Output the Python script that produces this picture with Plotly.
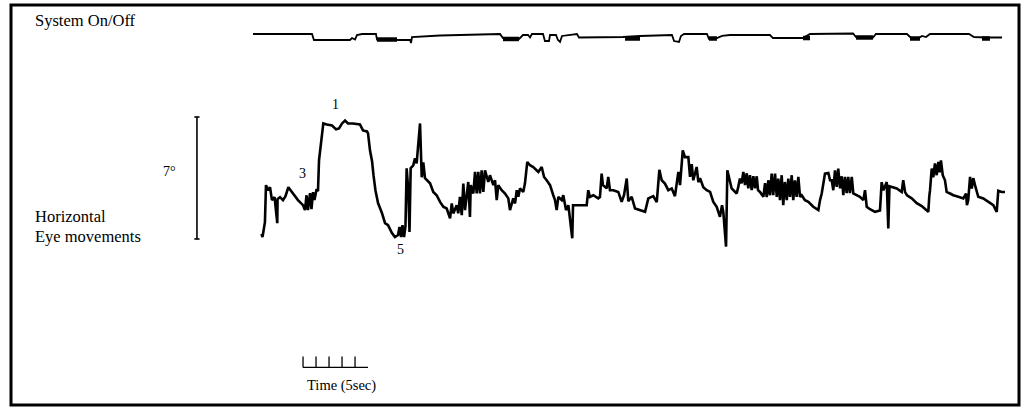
import plotly.graph_objects as go

W, H = 1032, 409

# ---------------- data (read from the record) ----------------
# Horizontal eye position: time (s) and position (deg)
eye_t = [0.12, 0.19, 0.27, 0.38, 0.46, 0.62, 0.77, 0.92, 1.12, 1.33, 1.35, 1.54, 1.77, 1.96, 2.18,
         2.54, 2.92, 3.31, 3.46, 3.58, 3.69, 3.85, 3.96, 4.08, 4.19, 4.35, 4.46, 4.54, 4.73, 4.87,
         5.15, 5.54, 5.85, 6.08, 6.31, 6.54, 6.77, 7.15, 7.69, 7.92, 8.23, 8.31, 8.46, 8.62, 8.73,
         8.88, 9.08, 9.38, 9.62, 9.85, 10.15, 10.38, 10.62, 10.73, 10.85, 10.96, 11.08, 11.19, 11.28, 11.41,
         11.50, 11.59, 11.79, 11.92, 12.05, 12.31, 12.44, 12.56, 12.69, 13.08, 13.33, 13.59, 13.85, 14.10, 14.36,
         14.62, 14.75, 14.87, 15.13, 15.25, 15.38, 15.52, 15.64, 15.77, 16.02, 16.15, 16.21, 16.41, 16.54, 16.67,
         16.79, 16.92, 17.05, 17.18, 17.31, 17.44, 17.56, 17.69, 17.95, 18.08, 18.21, 18.33, 18.59, 18.85, 19.10,
         19.23, 19.48, 19.62, 19.75, 19.87, 20.00, 20.25, 20.38, 20.56, 20.77, 21.02, 21.41, 21.67, 21.85, 22.05,
         22.31, 22.56, 22.69, 22.82, 22.95, 23.21, 23.33, 23.54, 23.72, 24.02, 24.08, 25.13, 25.25, 25.38, 25.64,
         26.02, 26.15, 26.28, 26.38, 26.67, 26.79, 26.92, 27.18, 27.56, 27.82, 28.00, 28.21, 28.33, 28.59, 28.85,
         29.23, 29.62, 29.87, 30.25, 30.52, 30.72, 30.90, 31.15, 31.41, 31.67, 31.92, 32.05, 32.18, 32.31, 32.52,
         32.69, 32.95, 33.08, 33.21, 33.33, 33.59, 33.72, 33.85, 34.10, 34.36, 34.62, 34.87, 35.13, 35.38, 35.54,
         35.64, 35.85, 35.95, 36.28, 36.67, 36.79, 36.92, 37.05, 37.18, 37.31, 37.44, 37.56, 37.69, 37.82, 37.95,
         38.08, 38.21, 38.31, 38.46, 38.72, 38.85, 38.98, 39.10, 39.23, 39.36, 39.48, 39.62, 39.75, 39.87, 40.00,
         40.13, 40.25, 40.38, 40.52, 40.64, 40.77, 40.90, 41.02, 41.15, 41.28, 41.41, 41.54, 41.67, 41.92, 42.18,
         42.56, 42.95, 43.08, 43.21, 43.46, 43.72, 43.85, 43.98, 44.10, 44.23, 44.36, 44.48, 44.62, 44.75, 44.87,
         45.00, 45.13, 45.25, 45.38, 45.52, 45.64, 45.90, 46.15, 46.41, 46.54, 46.67, 46.92, 47.31, 47.69, 47.82,
         47.95, 48.21, 48.33, 48.42, 48.59, 48.98, 49.36, 49.48, 49.62, 49.77, 50.13, 50.52, 50.90, 51.31, 51.41,
         51.48, 51.54, 51.67, 51.79, 51.92, 52.05, 52.18, 52.28, 52.38, 52.52, 52.69, 52.82, 53.08, 53.33, 53.72,
         54.10, 54.31, 54.38, 54.48, 54.62, 54.75, 54.87, 55.00, 55.25, 55.64, 56.02, 56.41, 56.67, 56.79, 57.05,
         57.31]
eye_deg = [0.29, 0.11, 0.46, 0.97, 3.09, 2.80, 2.97, 2.23, 2.40, 0.91, 2.29, 2.40, 2.23, 2.46, 2.97,
           2.63, 2.23, 1.94, 1.66, 2.51, 1.66, 2.63, 1.71, 2.69, 2.23, 2.86, 2.74, 4.51, 5.94, 6.63,
           6.57, 6.51, 6.29, 6.34, 6.63, 6.80, 6.63, 6.63, 6.57, 6.23, 6.17, 6.06, 5.09, 4.46, 3.66,
           2.80, 2.06, 1.49, 0.91, 0.80, 0.34, 0.11, 0.23, 0.69, 0.11, 0.80, 0.11, 0.74, 4.06, 2.80,
           0.40, 4.06, 4.23, 4.63, 4.34, 6.63, 3.54, 4.40, 3.49, 3.20, 2.70, 2.51, 2.13, 1.85, 1.75,
           1.18, 2.04, 1.47, 1.94, 1.47, 2.42, 1.37, 3.18, 1.66, 3.27, 1.27, 3.09, 2.61, 3.85, 2.61,
           3.85, 2.61, 3.94, 2.70, 3.94, 3.56, 3.27, 3.66, 3.09, 3.37, 2.23, 3.09, 2.80, 2.61, 2.33,
           1.66, 2.33, 2.04, 2.80, 2.42, 2.90, 2.70, 3.18, 4.42, 4.23, 4.13, 3.85, 4.13, 3.56, 3.37,
           3.09, 2.51, 2.23, 1.66, 2.42, 2.23, 2.51, 1.66, 1.94, 0.04, 1.94, 1.94, 2.80, 2.42, 2.51,
           2.33, 2.40, 3.75, 3.09, 2.91, 3.56, 2.80, 2.80, 2.70, 2.13, 2.51, 3.47, 2.17, 2.42, 1.75,
           1.66, 1.56, 2.33, 2.46, 2.11, 3.97, 3.37, 3.18, 2.80, 2.90, 2.46, 3.18, 3.85, 3.09, 5.09,
           4.70, 4.70, 3.56, 4.29, 3.37, 4.13, 3.26, 3.49, 2.97, 2.80, 2.70, 2.13, 1.85, 1.27, 1.94,
           1.54, -0.44, 3.94, 2.90, 2.61, 2.99, 3.47, 3.20, 3.85, 3.09, 3.77, 2.91, 3.66, 2.80, 3.60,
           2.91, 3.60, 2.80, 2.70, 2.42, 3.20, 2.40, 3.37, 2.51, 3.75, 2.51, 3.75, 2.42, 3.47, 2.23,
           3.66, 1.94, 3.27, 2.23, 3.47, 2.42, 3.66, 2.23, 3.37, 2.42, 3.56, 2.42, 2.51, 2.23, 2.13,
           1.85, 1.66, 2.23, 2.61, 3.75, 3.79, 3.37, 3.37, 2.80, 3.94, 2.99, 4.04, 2.91, 3.60, 2.51,
           3.56, 2.63, 3.56, 2.63, 3.56, 2.61, 2.51, 2.42, 2.23, 2.80, 1.85, 1.71, 1.56, 1.63, 3.26,
           2.80, 3.27, 0.61, 3.03, 2.99, 2.90, 2.70, 3.37, 2.69, 2.51, 2.33, 2.06, 1.89, 1.66, 1.56,
           2.42, 2.80, 4.04, 3.54, 4.33, 3.66, 4.42, 3.83, 4.51, 3.66, 3.37, 2.70, 2.61, 2.51, 2.42,
           2.33, 2.61, 1.94, 2.23, 3.56, 2.90, 3.49, 3.09, 2.42, 2.33, 2.13, 1.94, 1.56, 2.77, 2.70,
           2.70]

# System On/Off channel: time (s) and level (1 = on, 0 = off)
sys_t = [-0.54, 4.00, 4.15, 6.92, 7.08, 7.31, 7.46, 7.85, 8.92, 9.00, 10.54, 11.54, 11.62, 11.69, 13.85,
         18.46, 18.69, 19.92, 20.08, 20.23, 20.62, 20.77, 20.92, 21.77, 21.92, 22.23, 22.31, 22.77, 22.92, 23.08,
         23.23, 24.38, 24.54, 27.92, 29.23, 31.69, 31.85, 32.23, 32.38, 32.62, 34.38, 34.54, 35.15, 35.54, 36.15,
         39.23, 39.46, 41.77, 42.31, 45.62, 45.85, 47.15, 47.38, 49.77, 50.00, 50.38, 50.69, 50.92, 51.23, 51.54,
         54.54, 54.92, 55.85, 57.08]
sys_v = [1.00, 1.00, 0.00, 0.00, 0.33, 0.08, 0.83, 1.00, 1.00, 0.08, 0.00, 0.00, -0.50, 0.50, 0.75,
         1.00, 0.33, 0.17, 0.50, 0.83, 0.83, 0.42, 1.00, 1.00, -0.17, -0.17, 0.83, 0.83, 0.00, -0.33,
         0.67, 1.00, 0.42, 0.50, 0.67, 0.83, -0.17, -0.33, 0.67, 1.00, 1.00, 0.17, 0.33, 0.67, 0.83,
         0.83, 0.33, 0.33, 1.00, 1.08, 0.50, 0.42, 1.00, 1.00, 0.50, 0.17, 0.33, 0.67, 0.50, 1.00,
         1.00, 0.50, 0.42, 0.42]

# Rapid on/off bursts (drawn as dense marks): start (s), end (s), mean level
burst_start = [9.00, 18.69, 28.08, 34.54, 41.77, 45.85, 50.00, 55.54]
burst_end = [10.54, 19.92, 29.23, 35.15, 42.31, 47.15, 50.77, 56.15]
burst_level = [0.08, 0.17, 0.25, 0.25, 0.33, 0.42, 0.25, 0.25]

# Calibration bars
scale_deg = 7            # vertical calibration (deg)
scale_bar_t = -4.85      # time position of the vertical bar (s)
time_ticks = [3.31, 4.31, 5.31, 6.31, 7.31]   # 1-s ticks
time_bar_end = 8.31
time_bar_deg = -7.37     # level of the time bar (deg axis)
tick_len_deg = 0.63

# ---------------- axis scaling (layout only) ----------------
PX_PER_S = 13.0
X0_PX = 260.0            # pixel position of t = 0
PX_PER_DEG = 17.43
Y0_PX = 239.0            # pixel position of 0 deg
SYS_PX_PER_UNIT = 6.0
SYS_Y0_PX = 40.0

x_range = [(0 - X0_PX) / PX_PER_S, (W - X0_PX) / PX_PER_S]
y_range = [(Y0_PX - H) / PX_PER_DEG, Y0_PX / PX_PER_DEG]
y2_range = [(SYS_Y0_PX - H) / SYS_PX_PER_UNIT, SYS_Y0_PX / SYS_PX_PER_UNIT]

fig = go.Figure()

# Eye trace
fig.add_trace(go.Scatter(x=eye_t, y=eye_deg, mode="lines",
                         line=dict(color="black", width=2.6, shape="linear"),
                         hoverinfo="skip", showlegend=False))

# System channel
fig.add_trace(go.Scatter(x=sys_t, y=sys_v, mode="lines", yaxis="y2",
                         line=dict(color="black", width=1.8),
                         hoverinfo="skip", showlegend=False))
bx, by = [], []
for s, e, v in zip(burst_start, burst_end, burst_level):
    bx += [s, e, None]
    by += [v, v, None]
fig.add_trace(go.Scatter(x=bx, y=by, mode="lines", yaxis="y2",
                         line=dict(color="black", width=4.5),
                         hoverinfo="skip", showlegend=False))

# Vertical calibration bar (7 deg) with end caps
cap = 0.2
fig.add_trace(go.Scatter(
    x=[scale_bar_t, scale_bar_t, None, scale_bar_t - cap, scale_bar_t + cap, None,
       scale_bar_t - cap, scale_bar_t + cap],
    y=[0, scale_deg, None, scale_deg, scale_deg, None, 0, 0],
    mode="lines", line=dict(color="black", width=1.6),
    hoverinfo="skip", showlegend=False))

# Time calibration bar
tx, ty = [time_ticks[0], time_bar_end, None], [time_bar_deg, time_bar_deg, None]
for tk in time_ticks:
    tx += [tk, tk, None]
    ty += [time_bar_deg, time_bar_deg + tick_len_deg, None]
fig.add_trace(go.Scatter(x=tx, y=ty, mode="lines",
                         line=dict(color="black", width=1.3),
                         hoverinfo="skip", showlegend=False))

# ---------------- text ----------------
def px(xp):
    return xp / W

def py(yp):
    return 1 - yp / H

FONT = "Liberation Serif, Times New Roman, serif"
texts = [
    ("System On/Off", 33, 20, 16.5, "left"),
    ("7°", 161, 172, 14, "left"),
    ("3", 302, 173, 14, "center"),
    ("1", 335, 104, 14, "center"),
    ("5", 400, 249, 14, "center"),
    ("Horizontal", 33, 217, 16.5, "left"),
    ("Eye movements", 33, 237, 16.5, "left"),
    ("Time (5sec)", 305, 385, 14.5, "left"),
]
for txt, xp, yp, size, anchor in texts:
    fig.add_annotation(x=px(xp), y=py(yp), xref="paper", yref="paper",
                       text=txt, showarrow=False, xanchor=anchor, yanchor="middle",
                       font=dict(family=FONT, size=size, color="black"))

# Frame
fig.add_shape(type="rect", xref="paper", yref="paper",
              x0=px(11), x1=px(1019), y0=py(405), y1=py(5),
              line=dict(color="black", width=3))

fig.update_layout(
    width=W, height=H,
    margin=dict(l=0, r=0, t=0, b=0),
    paper_bgcolor="white", plot_bgcolor="white",
    xaxis=dict(range=x_range, visible=False, fixedrange=True),
    yaxis=dict(range=y_range, visible=False, fixedrange=True),
    yaxis2=dict(range=y2_range, visible=False, overlaying="y", fixedrange=True),
    showlegend=False,
)

fig.write_html("out.html", config={"displayModeBar": False},
               post_script="document.body.style.margin='0';document.body.style.overflow='hidden';")
